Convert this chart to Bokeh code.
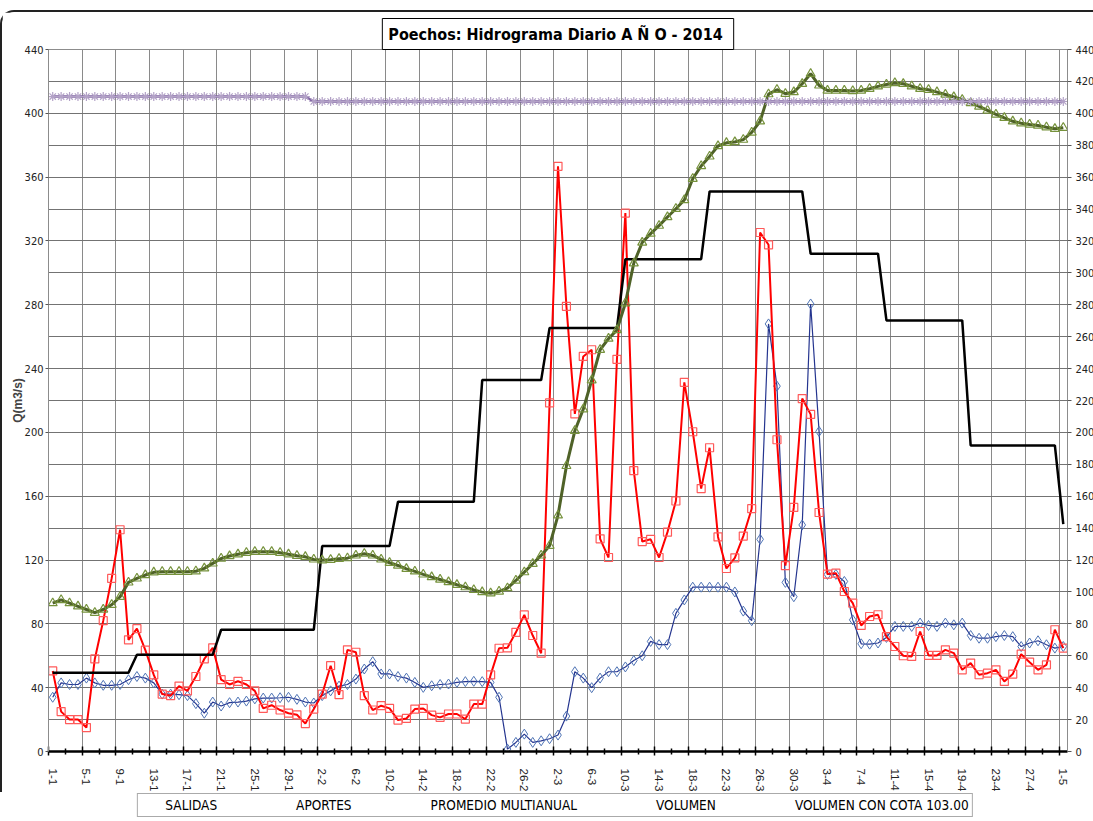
from bokeh.plotting import figure
from bokeh.layouts import column
from bokeh.models import (ColumnDataSource, FixedTicker, LinearAxis, Title,
                          Legend, LegendItem, Range1d, CustomLabelingPolicy)
from bokeh.embed import file_html
from bokeh.resources import INLINE

COND = "'Liberation Sans Narrow', 'DejaVu Sans Condensed', sans-serif"
SANS = "'Liberation Sans', Arial, sans-serif"

title_text = "Poechos: Hidrograma Diario  A Ñ O - 2014"
y_title = "Q(m3/s)"

tick_labels = ["1-1", "5-1", "9-1", "13-1", "17-1", "21-1", "25-1", "29-1",
               "2-2", "6-2", "10-2", "14-2", "18-2", "22-2", "26-2",
               "2-3", "6-3", "10-3", "14-3", "18-3", "22-3", "26-3", "30-3",
               "3-4", "7-4", "11-4", "15-4", "19-4", "23-4", "27-4", "1-5"]

series_names = ["SALIDAS", "APORTES", "PROMEDIO MULTIANUAL", "VOLUMEN",
                "VOLUMEN CON COTA 103.00"]

salidas = [34, 43, 42, 42, 46, 43, 41.5, 41.5, 42, 45,
           47, 46, 43, 36, 36, 35.6, 35, 30, 24, 31,
           28.5, 30.6, 31, 31.6, 33, 33.5, 33.5, 33.7, 34, 32.7,
           31, 30.4, 35, 38, 41, 42, 45.4, 51.7, 56.3, 48.6,
           48.6, 47, 46, 43.3, 40.2, 41.2, 42, 42.3, 43.3, 43.8,
           44, 43.8, 43.3, 34, 1.5, 5.7, 10.9, 5.7, 6.7, 8,
           10.3, 22.2, 50, 46, 40, 46, 50, 50, 53, 57,
           60, 69, 67, 67, 86.6, 95, 103, 103, 103, 103,
           103, 100, 88, 82, 133, 268, 229, 106, 97, 142,
           280.5, 200.6, 111, 111, 106.6, 82.5, 67.5, 67.3, 68, 71.5,
           78.4, 78.4, 78.4, 80.5, 79, 78.4, 80.5, 79.4, 80.5, 72.7,
           71, 71, 72, 72.7, 72, 65.8, 68, 69.4, 66.9, 64.8,
           65.8]

aportes = [50.5, 25, 20, 20, 15, 58, 82, 108.5, 139, 70,
           77, 63.5, 48, 36, 35, 41, 38, 47, 58, 65,
           45, 42, 44, 42, 38, 27, 29, 26, 24, 23,
           17.5, 26.6, 36, 53.8, 35.6, 63.7, 62.2, 35, 26, 28.7,
           27, 19.7, 20.7, 26.6, 27, 22.8, 21.4, 23.5, 23.5, 20.3,
           29.7, 29.7, 48, 64.7, 65, 74.7, 85.6, 72.7, 61.6, 218.5,
           366.8, 279, 211.6, 247.6, 251.8, 133.3, 121.6, 245.8, 337.5, 176,
           131.6, 133, 121.6, 137.5, 157, 231.4, 200.4, 164.8, 190.4, 134.5,
           114.7, 121.4, 135, 152.2, 325.3, 317.6, 195.4, 116.5, 153, 221.2,
           211.3, 149.8, 111.2, 111.8, 100.3, 93, 79, 84.6, 85.7, 72,
           65.8, 60, 59.6, 75.2, 60.2, 60.2, 63.7, 61.7, 51.2, 55.4,
           48.1, 49.1, 51.2, 43.9, 48.5, 61, 56, 51.2, 54.3, 76.3,
           64.8]

promedio = [49.3, 49.3, 49.3, 49.3, 49.3, 49.3, 49.3, 49.3, 49.3, 49.3,
            60.7, 60.7, 60.7, 60.7, 60.7, 60.7, 60.7, 60.7, 60.7, 60.7,
            76.3, 76.3, 76.3, 76.3, 76.3, 76.3, 76.3, 76.3, 76.3, 76.3,
            76.3, 76.3, 128.8, 128.8, 128.8, 128.8, 128.8, 128.8, 128.8, 128.8,
            128.8, 156.5, 156.5, 156.5, 156.5, 156.5, 156.5, 156.5, 156.5, 156.5,
            156.5, 232.8, 232.8, 232.8, 232.8, 232.8, 232.8, 232.8, 232.8, 265.4,
            265.4, 265.4, 265.4, 265.4, 265.4, 265.4, 265.4, 265.4, 308.6, 308.6,
            308.6, 308.6, 308.6, 308.6, 308.6, 308.6, 308.6, 308.6, 351, 351,
            351, 351, 351, 351, 351, 351, 351, 351, 351, 351,
            312, 312, 312, 312, 312, 312, 312, 312, 312, 270.2,
            270.2, 270.2, 270.2, 270.2, 270.2, 270.2, 270.2, 270.2, 270.2, 191.8,
            191.8, 191.8, 191.8, 191.8, 191.8, 191.8, 191.8, 191.8, 191.8, 191.8,
            142.5]

volumen = [93, 95, 93, 91, 89, 87, 89, 92, 97, 106,
           108.5, 110.6, 112.3, 112.7, 112.7, 112.7, 112.7, 113, 114.8, 117.9,
           121, 122.5, 123.6, 124.6, 125.2, 125.2, 125.2, 124.6, 123.6, 122.7,
           122, 120.4, 119.8, 120.2, 120.8, 121.2, 122.9, 124, 122.9, 120.4,
           118.3, 116.6, 114.5, 112.9, 111, 109.3, 107.8, 106.2, 104.5, 103,
           101.3, 99.9, 99.2, 100.3, 102.4, 107.2, 112.4, 117.7, 122.9, 129,
           148, 179, 201, 214.5, 232.7, 251.8, 258.8, 264.2, 281, 306,
           319, 324.6, 329.6, 335, 340.2, 345.7, 359, 367, 373, 379.5,
           381.5, 382, 383.5, 388, 395, 412, 414.8, 412.3, 413.3, 418.5,
           424.8, 417.5, 414.3, 414.3, 414.3, 414, 414.3, 415.4, 416.9, 418.1,
           419, 418.5, 417, 415.4, 414.8, 413.3, 411.8, 410.2, 408.5, 406.4,
           404.3, 401.8, 399.3, 397.2, 395, 393.8, 393, 392.4, 391.3, 390.3,
           391]

cota = [410.5, 410.5, 410.5, 410.5, 410.5, 410.5, 410.5, 410.5, 410.5, 410.5,
        410.5, 410.5, 410.5, 410.5, 410.5, 410.5, 410.5, 410.5, 410.5, 410.5,
        410.5, 410.5, 410.5, 410.5, 410.5, 410.5, 410.5, 410.5, 410.5, 410.5,
        410.5, 407.4, 407.4, 407.4, 407.4, 407.4, 407.4, 407.4, 407.4, 407.4,
        407.4, 407.4, 407.4, 407.4, 407.4, 407.4, 407.4, 407.4, 407.4, 407.4,
        407.4, 407.4, 407.4, 407.4, 407.4, 407.4, 407.4, 407.4, 407.4, 407.4,
        407.4, 407.4, 407.4, 407.4, 407.4, 407.4, 407.4, 407.4, 407.4, 407.4,
        407.4, 407.4, 407.4, 407.4, 407.4, 407.4, 407.4, 407.4, 407.4, 407.4,
        407.4, 407.4, 407.4, 407.4, 407.4, 407.4, 407.4, 407.4, 407.4, 407.4,
        407.4, 407.4, 407.4, 407.4, 407.4, 407.4, 407.4, 407.4, 407.4, 407.4,
        407.4, 407.4, 407.4, 407.4, 407.4, 407.4, 407.4, 407.4, 407.4, 407.4,
        407.4, 407.4, 407.4, 407.4, 407.4, 407.4, 407.4, 407.4, 407.4, 407.4,
        407.4]

n = len(salidas)
day = list(range(n))
src = ColumnDataSource(dict(day=day, salidas=salidas, aportes=aportes,
                            promedio=promedio, volumen=volumen, cota=cota))

# series styles (shared by the chart and the legend strip)
styles = {
    "salidas": dict(line=dict(line_color="#25358f", line_width=1.2),
                    marker=dict(marker="diamond", size=10, line_color="#4f74b5",
                                fill_color=None, line_width=1)),
    "aportes": dict(line=dict(line_color="#ff0000", line_width=2),
                    marker=dict(marker="square", size=8, line_color="#ff5a5a",
                                fill_color=None, line_width=1.2)),
    "promedio": dict(line=dict(line_color="black", line_width=2.5), marker=None),
    "volumen": dict(line=dict(line_color="#4f6228", line_width=3),
                    marker=dict(marker="triangle", size=9, line_color="#76923c",
                                fill_color=None, line_width=1.2)),
    "cota": dict(line=dict(line_color="#8064a2", line_width=2.5),
                 marker=dict(marker="asterisk", size=9, line_color="#b3a2c7",
                             line_width=1.2)),
}
keys = ["salidas", "aportes", "promedio", "volumen", "cota"]

p = figure(frame_width=1017, frame_height=700,
           x_range=Range1d(-0.5, n - 0.5), y_range=Range1d(0, 440),
           output_backend="svg", toolbar_location=None,
           min_border_left=44, min_border_right=30, min_border_top=37,
           min_border_bottom=0)
p.margin = (10, 0, 0, 0)
p.outline_line_color = "#8c8c8c"
p.styles = {"border-top": "2px solid #222", "border-left": "2px solid #222",
            "border-top-left-radius": "14px"}

p.title = Title(text=title_text, align="center", offset=20, standoff=0,
                text_font=COND, text_font_style="bold", text_font_size="16px",
                text_color="black", border_line_color="black",
                border_line_width=1, background_fill_color="white", padding=6)

label_pos = list(range(0, n, 4))
bounds_major = [k - 0.5 for k in range(0, n, 4)]
bounds_minor = [k + 1.5 for k in range(0, n - 4, 4)]

hide_all = CustomLabelingPolicy(code="for (const i of [...indices]) { indices.unset(i) }\nreturn indices")

# x axis line + tick marks at category boundaries
xa = p.xaxis[0]
xa.ticker = FixedTicker(ticks=bounds_major, minor_ticks=bounds_minor)
xa.major_label_policy = hide_all
xa.major_label_text_font_size = "1px"
xa.major_label_standoff = 0
xa.axis_line_width = 2.5
xa.axis_line_color = "black"
xa.major_tick_in = 5
xa.major_tick_out = 4
xa.major_tick_line_width = 1.5
xa.minor_tick_in = 3
xa.minor_tick_out = 3
xa.minor_tick_line_width = 1.5

# date labels at category centres
xl = LinearAxis(ticker=FixedTicker(ticks=label_pos, minor_ticks=[]),
                major_label_overrides={pos: lab for pos, lab in zip(label_pos, tick_labels)},
                axis_line_color=None, major_tick_line_color=None,
                minor_tick_line_color=None, major_label_orientation="vertical",
                major_label_standoff=3, major_label_text_font=SANS,
                major_label_text_font_size="11.5px",
                major_label_text_color="#222222")
p.add_layout(xl, "below")

ya = p.yaxis[0]
ya.ticker = FixedTicker(ticks=list(range(0, 441, 40)), minor_ticks=[])
ya.axis_line_color = "#8c8c8c"
ya.major_tick_in = 0
ya.major_tick_out = 3
ya.major_tick_line_color = "#555555"
ya.major_label_text_font = COND
ya.major_label_text_font_size = "11px"
ya.major_label_text_color = "#222222"
ya.major_label_standoff = 2
ya.axis_label = y_title
ya.axis_label_text_font = SANS
ya.axis_label_text_font_style = "bold"
ya.axis_label_text_font_size = "12px"
ya.axis_label_standoff = -3

yr = LinearAxis(ticker=FixedTicker(ticks=list(range(0, 441, 20)), minor_ticks=[]),
                axis_line_color="#8c8c8c", major_tick_in=0, major_tick_out=4,
                major_tick_line_color="#555555",
                major_label_text_font=COND, major_label_text_font_size="11px",
                major_label_text_color="#222222", major_label_standoff=4)
p.add_layout(yr, "right")

p.xgrid[0].ticker = FixedTicker(ticks=bounds_major)
p.ygrid[0].ticker = FixedTicker(ticks=list(range(0, 441, 20)))
p.xgrid[0].grid_line_color = "#8a8a8a"
p.ygrid[0].grid_line_color = "#737373"

for k in keys:
    p.line("day", k, source=src, **styles[k]["line"])
    if styles[k]["marker"] is not None:
        p.scatter("day", k, source=src, **styles[k]["marker"])

# legend strip below the chart (separate figure so it never leaves the page)
lf = figure(frame_width=1017, frame_height=26, x_range=Range1d(0, 1),
            y_range=Range1d(0, 1), output_backend="svg", toolbar_location=None,
            min_border_left=46, min_border_right=30, min_border_top=0,
            min_border_bottom=0, x_axis_location=None, y_axis_location=None)
lf.xgrid.visible = False
lf.ygrid.visible = False
lf.outline_line_color = None
items = []
for k, name in zip(keys, series_names):
    empty = ColumnDataSource(dict(x=[], y=[]))
    rs = [lf.line("x", "y", source=empty, **styles[k]["line"])]
    if styles[k]["marker"] is not None:
        rs.append(lf.scatter("x", "y", source=empty, **styles[k]["marker"]))
    items.append(LegendItem(label=name, renderers=rs))
legend = Legend(items=items, orientation="horizontal", location="center",
                border_line_color="#555555", border_line_width=1,
                label_text_font=COND, label_text_font_size="13.5px",
                label_text_color="black", glyph_width=24, glyph_height=10,
                spacing=54, padding=3, label_standoff=1, margin=0,
                background_fill_alpha=1, label_height=14)
lf.add_layout(legend)

layout = column(p, lf, spacing=0)
open("out.html", "w").write(file_html(layout, INLINE))
